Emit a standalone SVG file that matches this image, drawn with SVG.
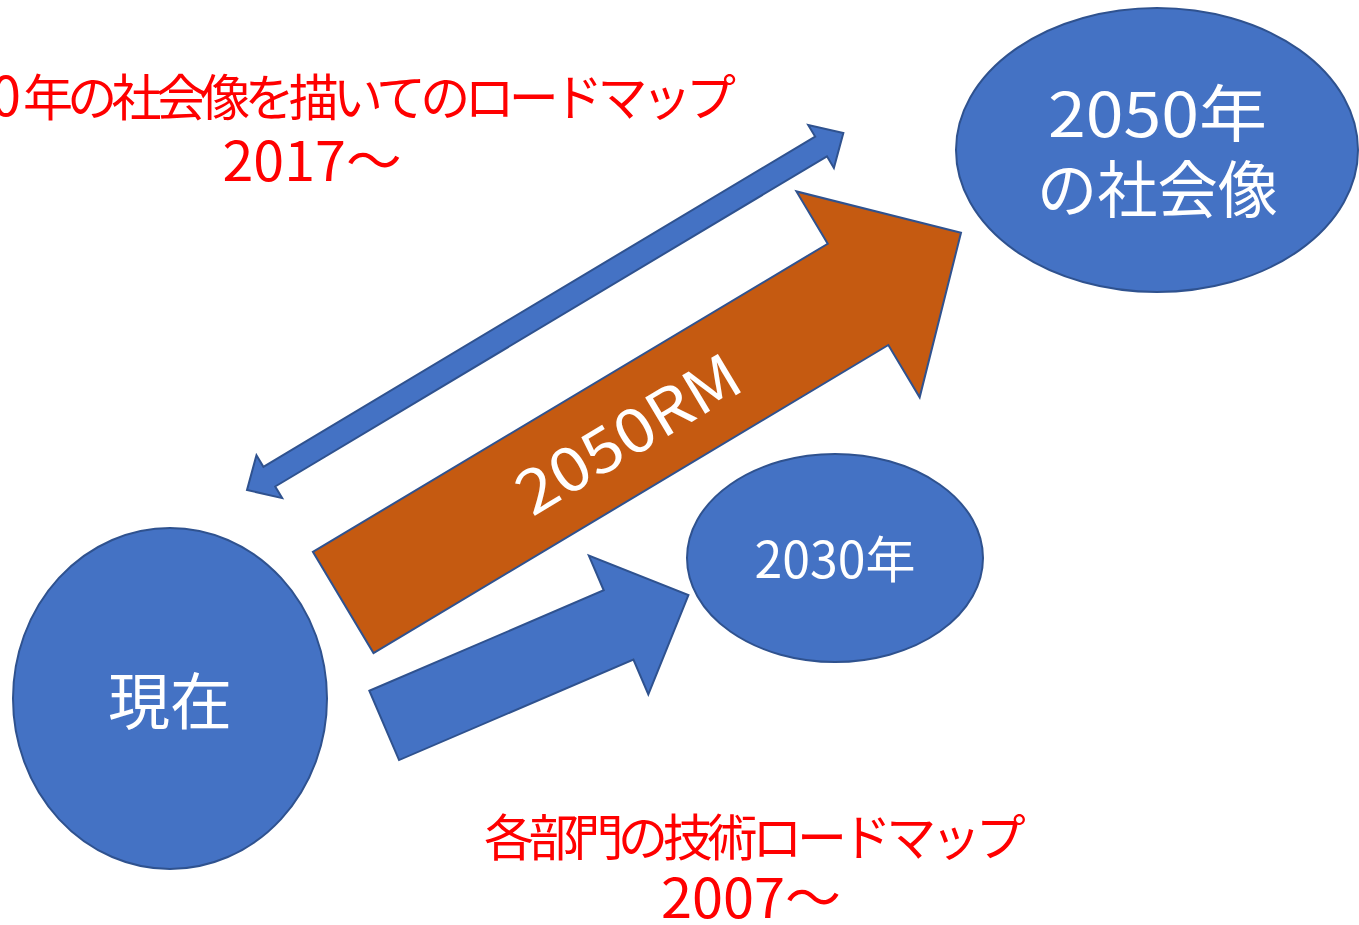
<svg xmlns="http://www.w3.org/2000/svg" width="1359" height="925" viewBox="0 0 1359 925">
  <style>
    .node { fill: #4472C4; stroke: #2F528F; stroke-width: 2; }
    .arrow-blue { fill: #4472C4; stroke: #2F528F; stroke-width: 2; stroke-linejoin: miter; }
    .arrow-orange { fill: #C55A11; stroke: #2F528F; stroke-width: 2; stroke-linejoin: miter; }
    .t { font-family: 'Noto Sans CJK JP', 'Noto Sans', 'DejaVu Sans', sans-serif; }
    .white { fill: #FFFFFF; }
    .red { fill: #FF0000; }
  </style>
  <rect width="1359" height="925" fill="#FFFFFF"/>

  <g id="node-genzai">
    <ellipse class="node" cx="170" cy="698.5" rx="157" ry="170.5"/>
    <text class="t white" x="170" y="725" font-size="62" text-anchor="middle">現在</text>
  </g>

  <g id="node-2030">
    <ellipse class="node" cx="835" cy="558" rx="148" ry="104"/>
    <text class="t white" x="835" y="578" font-size="50" text-anchor="middle">2030年</text>
  </g>

  <g id="node-2050">
    <ellipse class="node" cx="1157" cy="150" rx="201" ry="142"/>
    <text class="t white" x="1157.5" y="137" font-size="62" text-anchor="middle" textLength="219" lengthAdjust="spacingAndGlyphs">2050年</text>
    <text class="t white" x="1157.5" y="213" font-size="62" text-anchor="middle" textLength="241" lengthAdjust="spacingAndGlyphs">の社会像</text>
  </g>

  <g id="connectors">
    <g id="arrow-2050-roadmap" transform="translate(247,490) rotate(-30.9)">
      <polygon class="arrow-blue" points="0,0 26,-25 26,-11.5 669,-11.5 669,-25 695,0 669,25 669,11.5 26,11.5 26,25"/>
    </g>
    <g id="arrow-2050RM" transform="translate(343.2,602.5) rotate(-30.9)">
      <polygon class="arrow-orange" points="0,-59 600,-59 600,-120 720,0 600,120 600,59 0,59"/>
      <text class="t white" x="331" y="24" font-size="61" text-anchor="middle" textLength="250" lengthAdjust="spacingAndGlyphs">2050RM</text>
    </g>
    <g id="arrow-2030" transform="translate(384.2,725.4) rotate(-23.2)">
      <polygon class="arrow-blue" points="0,-37.7 255,-37.7 255,-75.5 331,0 255,75.5 255,37.7 0,37.7"/>
    </g>
  </g>

  <g id="label-top">
    <text class="t red" y="116" font-size="50"><tspan x="-99" font-size="54">2050</tspan><tspan x="23" letter-spacing="-5.7">年の社会像を描いてのロードマップ</tspan></text>
    <text class="t red" x="312" y="181" font-size="54" text-anchor="middle" textLength="179" lengthAdjust="spacingAndGlyphs">2017～</text>
  </g>

  <g id="label-bottom">
    <text class="t red" x="484" y="856" font-size="50" letter-spacing="-5.3">各部門の技術ロードマップ</text>
    <text class="t red" x="751" y="918" font-size="54" text-anchor="middle" textLength="180" lengthAdjust="spacingAndGlyphs">2007～</text>
  </g>
</svg>
